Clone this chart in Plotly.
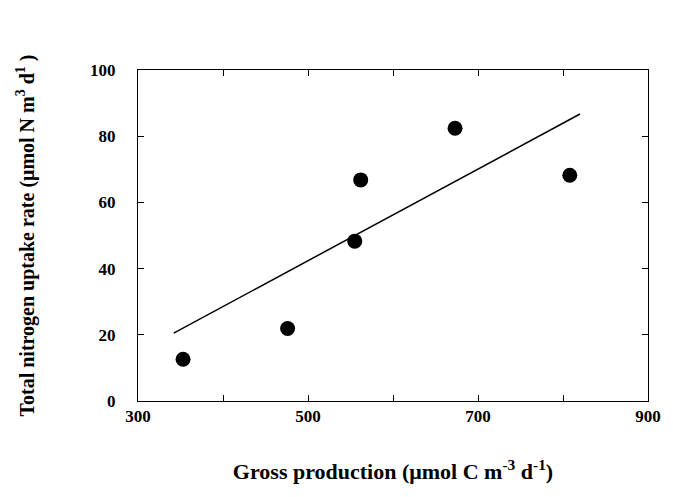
import plotly.graph_objects as go

# Data
gross_production = [353, 476, 555, 562, 673, 808]
n_uptake = [12.6, 21.9, 48.3, 66.8, 82.4, 68.2]

fit_x = [342, 820]
fit_y = [20.5, 86.7]

x_tickvals = [300, 500, 700, 900]
y_tickvals = [0, 20, 40, 60, 80, 100]

font_family = "Liberation Serif"

fig = go.Figure()
fig.add_trace(go.Scatter(x=fit_x, y=fit_y, mode="lines",
                         line=dict(color="black", width=1.5), showlegend=False))
fig.add_trace(go.Scatter(x=gross_production, y=n_uptake, mode="markers",
                         marker=dict(color="black", size=15), showlegend=False))

fig.update_layout(
    width=673, height=497,
    margin=dict(l=138, r=16, t=70, b=96),
    paper_bgcolor="white", plot_bgcolor="white",
    font=dict(family=font_family, size=16, color="black", weight="bold"),
)
fig.update_xaxes(
    range=[300, 900], tickvals=x_tickvals,
    showline=True, linecolor="black", linewidth=1, mirror="allticks",
    ticks="inside", ticklen=6, tickcolor="black", showgrid=False, zeroline=False,
    minor=dict(dtick=100, tick0=300, ticks="inside", ticklen=6, tickcolor="black", showgrid=False),
    tickfont=dict(family=font_family, size=17, weight="bold"),
    title=dict(text="Gross production (μmol C m<sup>-3</sup> d<sup>-1</sup>)",
               font=dict(family=font_family, size=22, weight="bold"), standoff=38),
)
fig.update_yaxes(
    range=[0, 100], tickvals=y_tickvals,
    showline=True, linecolor="black", linewidth=1, mirror="allticks",
    ticks="inside", ticklen=6, tickcolor="black", showgrid=False, zeroline=False,
    tickfont=dict(family=font_family, size=17, weight="bold"),
    ticklabelstandoff=18,
    title=dict(text="Total nitrogen uptake rate (μmol N m<sup>3</sup> d<sup>1</sup> )",
               font=dict(family=font_family, size=20, weight="bold"), standoff=50),
)

fig.write_html("out.html")
